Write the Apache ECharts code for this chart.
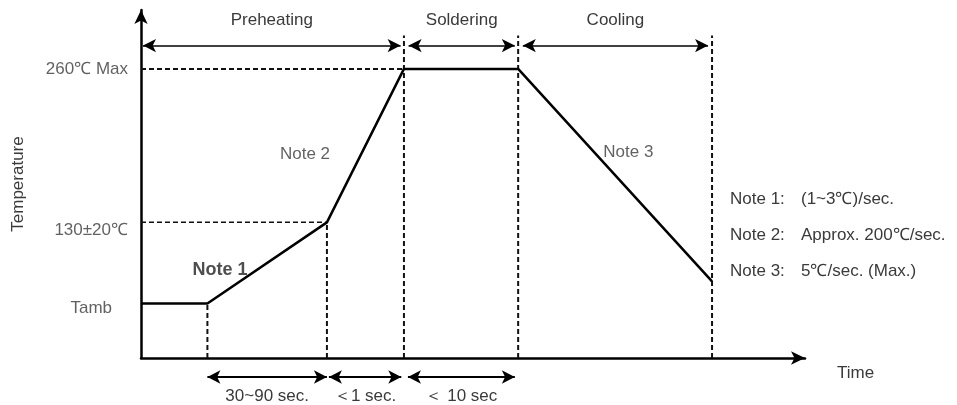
<!DOCTYPE html>
<html><head><meta charset="utf-8">
<script src="https://cdn.jsdelivr.net/npm/echarts@6/dist/echarts.min.js"></script>
<style>html,body{margin:0;padding:0;background:#fff}#c{width:957px;height:405px}</style>
</head><body><div id="c"></div>
<script>
// schematic profile (arbitrary time units / schematic temperature scale)
const profileTime = [0, 10, 28, 39.6, 56.8, 86];
const profileTemp = [49, 49, 122, 260, 260, 69];
const guideX = [10, 28, 39.6, 56.8, 86];
const guideTop = [49, 122, 290, 290, 290];
const levelY = [260, 122];
const levelEnd = [39.6, 28];
const yLabels = ['260℃ Max', '130±20℃', 'Tamb'];
const yLabelValues = [260, 122, 49];
const phases = ['Preheating', 'Soldering', 'Cooling'];
const phaseStart = [0.3, 40.3, 57.5];
const phaseEnd = [39.1, 56.3, 85.4];
const phaseLevel = 281;
const durations = ['30~90 sec.', '＜1 sec.', '＜ 10 sec'];
const durStart = [10, 28.3, 40.2];
const durEnd = [28, 39.2, 56.3];
const curveNotes = ['Note 1', 'Note 2', 'Note 3'];
const curveNoteX = [11.9, 24.7, 73.4];
const curveNoteY = [79, 183, 185];
const noteNames = ['Note 1:', 'Note 2:', 'Note 3:'];
const noteTexts = ['(1~3℃)/sec.', 'Approx. 200℃/sec.', '5℃/sec. (Max.)'];

const FONT = 'Liberation Sans, Arial, sans-serif';
const TXT = '#3a3a3a';
const FS = 17;
const chart = echarts.init(document.getElementById('c'));

const series = [];
series.push({
  type: 'line', xAxisIndex: 0, yAxisIndex: 0, symbol: 'none', z: 5,
  data: profileTime.map((t, i) => [t, profileTemp[i]]),
  lineStyle: { color: '#000', width: 2.5 }
});
guideX.forEach((x, i) => series.push({
  type: 'line', xAxisIndex: 0, yAxisIndex: 0, symbol: 'none', z: 3,
  data: [[x, 0], [x, guideTop[i]]],
  lineStyle: { color: '#111', width: 2, type: [5, 3] }
}));
levelY.forEach((y, i) => series.push({
  type: 'line', xAxisIndex: 0, yAxisIndex: 0, symbol: 'none', z: 3,
  data: [[0, y], [levelEnd[i], y]],
  lineStyle: { color: '#111', width: i === 0 ? 2 : 1.5, type: [5, 3] }
}));
series.push({
  type: 'line', xAxisIndex: 0, yAxisIndex: 0, data: [], silent: true,
  markLine: {
    silent: true, symbol: ['arrow', 'arrow'], symbolSize: [10, 13],
    lineStyle: { color: '#000', width: 1.5, type: 'solid' },
    label: { show: true, position: 'insideMiddleTop', distance: 17, color: TXT, fontSize: FS, fontFamily: FONT, formatter: p => p.name },
    data: phases.map((n, i) => [{ name: n, coord: [phaseStart[i], phaseLevel] }, { coord: [phaseEnd[i], phaseLevel] }])
  }
});
series.push({
  type: 'scatter', xAxisIndex: 0, yAxisIndex: 0, symbolSize: 0, clip: false,
  data: yLabelValues.map((v, i) => ({ value: [0, v], name: yLabels[i],
    label: { offset: i === 1 ? [0, 8] : (i === 2 ? [-16, 5] : [0, 0]) } })),
  label: { show: true, position: 'left', distance: 13, color: TXT, fontSize: FS, fontFamily: FONT, formatter: p => p.name }
});
series.push({
  type: 'scatter', xAxisIndex: 0, yAxisIndex: 0, symbolSize: 0,
  data: curveNotes.map((n, i) => ({ value: [curveNoteX[i], curveNoteY[i]], name: n,
    label: i === 0 ? { fontSize: 18, fontWeight: 'bold', color: '#222' } : {} })),
  label: { show: true, position: 'inside', color: TXT, fontSize: FS, fontFamily: FONT, formatter: p => p.name }
});
series.push({
  type: 'line', xAxisIndex: 1, yAxisIndex: 1, data: [], silent: true,
  markLine: {
    silent: true, symbol: ['arrow', 'arrow'], symbolSize: [10, 13],
    lineStyle: { color: '#000', width: 2, type: 'solid' },
    label: { show: true, position: 'insideMiddleBottom', distance: 11, color: TXT, fontSize: FS, fontFamily: FONT, formatter: p => p.name },
    data: durations.map((n, i) => [{ name: n, coord: [durStart[i], 0.5] }, { coord: [durEnd[i], 0.5] }])
  }
});

const graphics = [];
noteNames.forEach((n, i) => {
  graphics.push({ type: 'text', left: 730, top: 191 + i * 36, style: { text: n, fill: TXT, font: FS + 'px ' + FONT } });
  graphics.push({ type: 'text', left: 801, top: 191 + i * 36, style: { text: noteTexts[i], fill: TXT, font: FS + 'px ' + FONT } });
});

chart.setOption({
  animation: false,
  grid: [
    { left: 141, top: 10, width: 664, height: 348 },
    { left: 141, top: 370, width: 664, height: 14 }
  ],
  xAxis: [
    { type: 'value', gridIndex: 0, min: 0, max: 100,
      name: 'Time', nameLocation: 'end', nameGap: 32,
      nameTextStyle: { color: TXT, fontSize: FS, fontFamily: FONT, verticalAlign: 'top', padding: [7, 0, 0, 0] },
      axisLine: { show: true, lineStyle: { color: '#000', width: 2.5 }, symbol: ['none', 'arrow'], symbolSize: [10, 14] },
      axisTick: { show: false }, axisLabel: { show: false }, splitLine: { show: false } },
    { type: 'value', gridIndex: 1, min: 0, max: 100, show: false }
  ],
  yAxis: [
    { type: 'value', gridIndex: 0, min: 0, max: 313,
      name: 'Temperature', nameLocation: 'middle', nameGap: 114, nameRotate: 90,
      nameTextStyle: { color: TXT, fontSize: FS, fontFamily: FONT },
      axisLine: { show: true, lineStyle: { color: '#000', width: 2.5 }, symbol: ['none', 'arrow'], symbolSize: [10, 14] },
      axisTick: { show: false }, axisLabel: { show: false }, splitLine: { show: false } },
    { type: 'value', gridIndex: 1, min: 0, max: 1, show: false }
  ],
  graphic: graphics,
  series: series
});
</script></body></html>
